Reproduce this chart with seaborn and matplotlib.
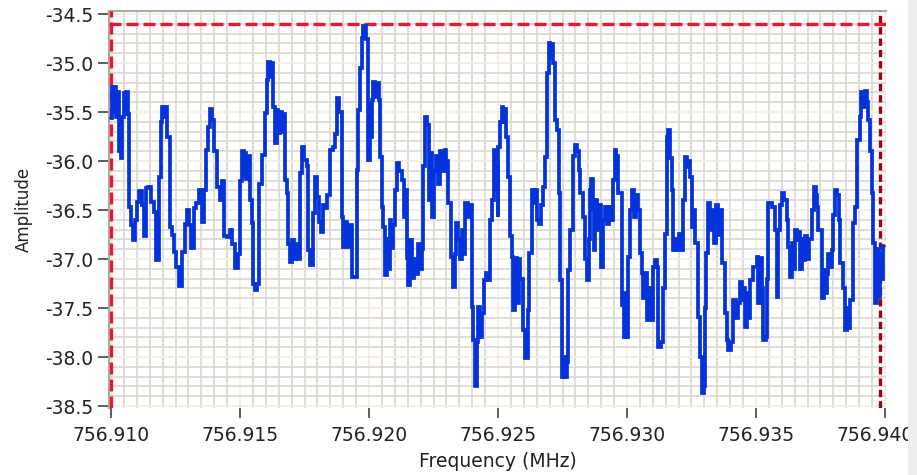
import matplotlib
matplotlib.use("Agg")
import matplotlib.pyplot as plt
from matplotlib.patches import Rectangle
from matplotlib.ticker import MultipleLocator, FormatStrFormatter
from matplotlib.transforms import ScaledTranslation
import pandas as pd
import seaborn as sns

# ---------------- data ----------------
freq_mhz = [
    756.91000, 756.91005, 756.91010, 756.91016, 756.91021, 756.91026, 756.91031, 756.91036, 756.91040, 756.91044,
    756.91049, 756.91054, 756.91059, 756.91065, 756.91070, 756.91078, 756.91085, 756.91093, 756.91101, 756.91109,
    756.91119, 756.91127, 756.91135, 756.91145, 756.91155, 756.91166, 756.91176, 756.91186, 756.91194, 756.91199,
    756.91207, 756.91212, 756.91217, 756.91228, 756.91235, 756.91243, 756.91253, 756.91264, 756.91276, 756.91287,
    756.91295, 756.91302, 756.91310, 756.91321, 756.91331, 756.91341, 756.91352, 756.91359, 756.91367, 756.91375,
    756.91383, 756.91393, 756.91400, 756.91411, 756.91421, 756.91429, 756.91437, 756.91450, 756.91460, 756.91470,
    756.91481, 756.91491, 756.91500, 756.91507, 756.91514, 756.91519, 756.91525, 756.91532, 756.91537, 756.91545,
    756.91550, 756.91558, 756.91566, 756.91574, 756.91584, 756.91597, 756.91603, 756.91610, 756.91618, 756.91624,
    756.91629, 756.91636, 756.91642, 756.91649, 756.91655, 756.91663, 756.91669, 756.91674, 756.91682, 756.91687,
    756.91694, 756.91702, 756.91709, 756.91717, 756.91726, 756.91733, 756.91739, 756.91748, 756.91759, 756.91764,
    756.91773, 756.91783, 756.91789, 756.91797, 756.91806, 756.91814, 756.91822, 756.91829, 756.91839, 756.91849,
    756.91860, 756.91868, 756.91876, 756.91884, 756.91894, 756.91901, 756.91907, 756.91915, 756.91922, 756.91933,
    756.91952, 756.91957, 756.91965, 756.91971, 756.91978, 756.91988, 756.91997, 756.92002, 756.92005, 756.92010,
    756.92016, 756.92023, 756.92031, 756.92039, 756.92043, 756.92050, 756.92055, 756.92062, 756.92068, 756.92074,
    756.92081, 756.92087, 756.92093, 756.92101, 756.92109, 756.92116, 756.92127, 756.92134, 756.92140, 756.92146,
    756.92151, 756.92159, 756.92167, 756.92174, 756.92182, 756.92190, 756.92198, 756.92205, 756.92210, 756.92217,
    756.92225, 756.92231, 756.92236, 756.92244, 756.92252, 756.92260, 756.92267, 756.92275, 756.92283, 756.92293,
    756.92300, 756.92307, 756.92316, 756.92326, 756.92333, 756.92339, 756.92345, 756.92353, 756.92360, 756.92368,
    756.92372, 756.92382, 756.92388, 756.92398, 756.92403, 756.92411, 756.92419, 756.92424, 756.92430, 756.92438,
    756.92444, 756.92454, 756.92461, 756.92469, 756.92477, 756.92485, 756.92490, 756.92494, 756.92498, 756.92501,
    756.92508, 756.92514, 756.92519, 756.92525, 756.92531, 756.92537, 756.92547, 756.92554, 756.92559, 756.92566,
    756.92574, 756.92581, 756.92585, 756.92597, 756.92605, 756.92617, 756.92622, 756.92631, 756.92638, 756.92643,
    756.92650, 756.92659, 756.92667, 756.92676, 756.92682, 756.92689, 756.92696, 756.92702, 756.92707, 756.92713,
    756.92721, 756.92729, 756.92735, 756.92740, 756.92747, 756.92754, 756.92760, 756.92766, 756.92773, 756.92779,
    756.92792, 756.92799, 756.92806, 756.92814, 756.92818, 756.92831, 756.92837, 756.92845, 756.92851, 756.92857,
    756.92862, 756.92868, 756.92872, 756.92876, 756.92884, 756.92891, 756.92899, 756.92907, 756.92915, 756.92924,
    756.92932, 756.92940, 756.92947, 756.92952, 756.92959, 756.92966, 756.92980, 756.92987, 756.92992, 756.92998,
    756.93005, 756.93012, 756.93018, 756.93027, 756.93035, 756.93043, 756.93050, 756.93058, 756.93063, 756.93070,
    756.93078, 756.93085, 756.93089, 756.93097, 756.93102, 756.93109, 756.93116, 756.93121, 756.93132, 756.93141,
    756.93147, 756.93154, 756.93159, 756.93167, 756.93173, 756.93180, 756.93186, 756.93193, 756.93202, 756.93209,
    756.93218, 756.93225, 756.93233, 756.93240, 756.93244, 756.93252, 756.93260, 756.93264, 756.93276, 756.93283,
    756.93290, 756.93297, 756.93302, 756.93308, 756.93315, 756.93322, 756.93329, 756.93337, 756.93345, 756.93353,
    756.93360, 756.93367, 756.93380, 756.93386, 756.93393, 756.93403, 756.93412, 756.93422, 756.93430, 756.93438,
    756.93446, 756.93454, 756.93457, 756.93465, 756.93473, 756.93477, 756.93488, 756.93503, 756.93509, 756.93514,
    756.93522, 756.93527, 756.93539, 756.93543, 756.93548, 756.93562, 756.93574, 756.93580, 756.93586, 756.93593,
    756.93600, 756.93609, 756.93619, 756.93624, 756.93632, 756.93640, 756.93645, 756.93651, 756.93659, 756.93667,
    756.93671, 756.93678, 756.93683, 756.93690, 756.93698, 756.93705, 756.93716, 756.93723, 756.93731, 756.93736,
    756.93742, 756.93755, 756.93762, 756.93769, 756.93775, 756.93780, 756.93787, 756.93795, 756.93800, 756.93806,
    756.93814, 756.93822, 756.93826, 756.93838, 756.93845, 756.93853, 756.93860, 756.93864, 756.93877, 756.93884,
    756.93893, 756.93903, 756.93909, 756.93915, 756.93922, 756.93930, 756.93935, 756.93942, 756.93948, 756.93955,
    756.93961, 756.93968, 756.93975, 756.93981, 756.93988, 756.93993, 756.93998,
]

amplitude = [
    -35.56, -35.24, -35.50, -35.24, -35.55, -35.30, -35.90, -35.75, -35.97, -35.55,
    -35.31, -35.52, -35.30, -35.52, -36.47, -36.65, -36.81, -36.60, -36.42, -36.31,
    -36.45, -36.77, -36.28, -36.26, -36.42, -36.52, -37.01, -36.16, -35.60, -35.45,
    -35.55, -35.45, -35.75, -36.67, -36.75, -36.93, -37.08, -37.28, -36.93, -36.64,
    -36.50, -36.65, -36.89, -36.48, -36.43, -36.30, -36.62, -36.30, -35.89, -35.65,
    -35.47, -35.58, -35.90, -36.26, -36.40, -36.20, -36.76, -36.78, -36.70, -36.85,
    -37.09, -36.95, -36.20, -35.90, -36.15, -35.92, -36.18, -35.95, -36.40, -36.63,
    -37.25, -37.32, -37.25, -36.23, -35.94, -35.51, -35.17, -34.99, -35.14, -35.00,
    -35.45, -35.82, -35.48, -35.71, -35.50, -35.70, -35.52, -36.19, -36.33, -36.85,
    -37.03, -36.81, -37.00, -36.85, -37.00, -36.12, -35.86, -35.99, -36.05, -36.91,
    -37.06, -36.53, -36.16, -36.37, -36.62, -36.72, -36.45, -36.48, -36.35, -35.89,
    -35.86, -35.72, -35.36, -35.50, -36.57, -36.88, -36.62, -36.88, -36.65, -37.18,
    -36.09, -35.48, -35.05, -34.74, -34.62, -34.75, -35.99, -35.40, -35.75, -35.38,
    -35.19, -35.35, -35.20, -35.38, -35.96, -36.47, -36.67, -37.16, -36.80, -37.10,
    -36.60, -36.89, -36.65, -36.30, -36.02, -36.10, -36.19, -36.57, -36.30, -36.99,
    -37.26, -36.81, -37.19, -37.00, -37.15, -36.85, -37.10, -36.90, -36.05, -35.55,
    -35.63, -36.40, -35.92, -36.57, -36.10, -35.95, -36.23, -35.90, -36.10, -35.89,
    -36.00, -36.43, -36.98, -37.29, -36.95, -36.63, -36.80, -37.00, -36.70, -36.95,
    -36.43, -36.57, -36.45, -37.49, -37.83, -38.30, -37.85, -37.49, -37.80, -37.55,
    -37.21, -37.14, -37.21, -36.60, -36.40, -35.89, -36.30, -36.02, -36.57, -35.86,
    -35.60, -35.45, -35.60, -35.47, -35.75, -36.16, -36.77, -36.98, -37.52, -36.99,
    -37.45, -37.00, -37.20, -37.72, -38.01, -37.52, -36.94, -36.30, -36.43, -36.30,
    -36.60, -36.64, -36.45, -36.26, -35.96, -35.10, -34.80, -34.95, -34.81, -35.00,
    -35.58, -35.68, -36.33, -37.21, -38.20, -38.00, -38.20, -38.05, -37.11, -36.70,
    -35.95, -35.84, -35.90, -36.09, -36.33, -36.57, -37.00, -37.21, -36.80, -36.30,
    -36.18, -36.50, -36.91, -36.40, -36.70, -36.45, -37.08, -36.60, -36.47, -36.64,
    -36.47, -36.60, -36.19, -35.89, -35.95, -36.33, -37.47, -37.80, -37.35, -37.80,
    -36.98, -36.50, -36.30, -36.57, -36.35, -36.50, -36.94, -37.14, -37.40, -37.14,
    -37.62, -37.30, -37.55, -37.62, -37.08, -37.01, -37.08, -37.90, -37.85, -37.30,
    -36.74, -35.75, -35.68, -35.97, -36.30, -36.91, -36.80, -36.91, -36.74, -36.91,
    -36.40, -35.96, -36.06, -36.00, -36.16, -36.67, -36.50, -36.84, -37.59, -38.00,
    -38.37, -38.30, -37.50, -36.94, -36.43, -36.70, -36.50, -36.84, -36.45, -36.75,
    -36.50, -37.04, -37.55, -37.83, -37.93, -37.85, -37.42, -37.60, -37.45, -37.23,
    -37.42, -37.30, -37.69, -37.35, -37.60, -37.21, -37.08, -36.98, -37.45, -36.99,
    -37.30, -37.83, -37.80, -37.20, -36.43, -36.47, -36.70, -37.39, -36.70, -36.45,
    -36.33, -36.40, -36.60, -36.88, -37.18, -36.84, -37.10, -36.70, -36.81, -36.72,
    -37.10, -36.80, -37.01, -36.76, -37.00, -36.80, -36.50, -36.26, -36.35, -36.47,
    -36.70, -37.40, -37.11, -37.35, -37.15, -36.95, -37.08, -36.91, -36.55, -36.30,
    -36.35, -36.60, -37.04, -37.30, -37.72, -37.50, -37.70, -37.42, -36.63, -36.47,
    -35.79, -35.55, -35.30, -35.45, -35.29, -35.40, -35.58, -35.90, -36.33, -36.84,
    -37.45, -36.90, -37.39, -36.95, -37.20, -36.87, -36.87,
]

x_ticks = [756.910, 756.915, 756.920, 756.925, 756.930, 756.935, 756.940]
y_ticks = [-38.5, -38.0, -37.5, -37.0, -36.5, -36.0, -35.5, -35.0, -34.5]

cursor_level = -34.60        # horizontal cursor (amplitude)
cursor_a_mhz = 756.9100      # first vertical cursor
cursor_b_mhz = 756.93981     # second vertical cursor

# ---------------- styling ----------------
sns.set_theme(style="white")
plt.rcParams["font.family"] = ["DejaVu Sans"]
plt.rcParams["axes.unicode_minus"] = False

W, H = 917, 475
fig = plt.figure(figsize=(W / 100, H / 100), dpi=100)
fig.patch.set_facecolor("white")
fig.patches.append(Rectangle((908 / W, 0), 1 - 908 / W, 1, transform=fig.transFigure,
                             facecolor="#EEEEEE", edgecolor="none", zorder=0))

ax = fig.add_axes([109 / W, 1 - 408 / H, 777 / W, 397 / H])
ax.set_facecolor("white")

df = pd.DataFrame({"Frequency (MHz)": freq_mhz, "Amplitude": amplitude})
sns.lineplot(data=df, x="Frequency (MHz)", y="Amplitude", ax=ax, sort=False,
             estimator=None, drawstyle="steps-post", color="#0433DC",
             linewidth=2.7, zorder=4, solid_joinstyle="miter")

red = "#F0142D"
ax.axhline(cursor_level, color=red, lw=2.4, dashes=(3.6, 1.5), zorder=3)
ax.axvline(cursor_a_mhz, color=red, lw=2.4, dashes=(3.6, 1.5), zorder=3)
ax.axvline(cursor_b_mhz, color="#A00012", lw=2.4, dashes=(2.2, 1.2), zorder=3)

ax.set_xlim(756.90992, 756.94004)
ax.set_ylim(-38.52, -34.469)
ax.set_xticks(x_ticks)
ax.set_yticks(y_ticks)
ax.xaxis.set_major_formatter(FormatStrFormatter("%.3f"))
ax.yaxis.set_major_formatter(FormatStrFormatter("%.1f"))
ax.xaxis.set_minor_locator(MultipleLocator(0.0005))
ax.yaxis.set_minor_locator(MultipleLocator(0.1))

ax.set_axisbelow(True)
ax.grid(which="minor", color="#DCD8D0", lw=1.2, zorder=0)
ax.grid(which="major", color="#F2EEDF", lw=1.2, zorder=0)

for side in ["bottom", "right"]:
    ax.spines[side].set_visible(False)
for side in ["top", "left"]:
    ax.spines[side].set_color("#ABABAB")
    ax.spines[side].set_linewidth(1.5)

ax.tick_params(which="minor", length=0)
ax.tick_params(axis="x", which="major", direction="out", length=7, width=1.1,
               color="#333333", labelsize=13.5, labelcolor="#222222", pad=6,
               bottom=True)
ax.tick_params(axis="y", which="major", direction="out", length=8, width=1.1,
               color="#333333", labelsize=13.5, labelcolor="#222222", pad=3,
               left=True)

ax.set_xlabel("Frequency (MHz)", fontsize=13.5, color="#222222", labelpad=5)
ax.set_ylabel("Amplitude", fontsize=12, color="#222222", labelpad=9)

# keep the last frequency label inside the canvas (it sits at the right edge)
fig.canvas.draw()
last_label = ax.get_xticklabels()[-1]
last_label.set_transform(last_label.get_transform()
                         + ScaledTranslation(-0.10, 0, fig.dpi_scale_trans))

fig.savefig("out.png", dpi=100, facecolor=fig.get_facecolor())
